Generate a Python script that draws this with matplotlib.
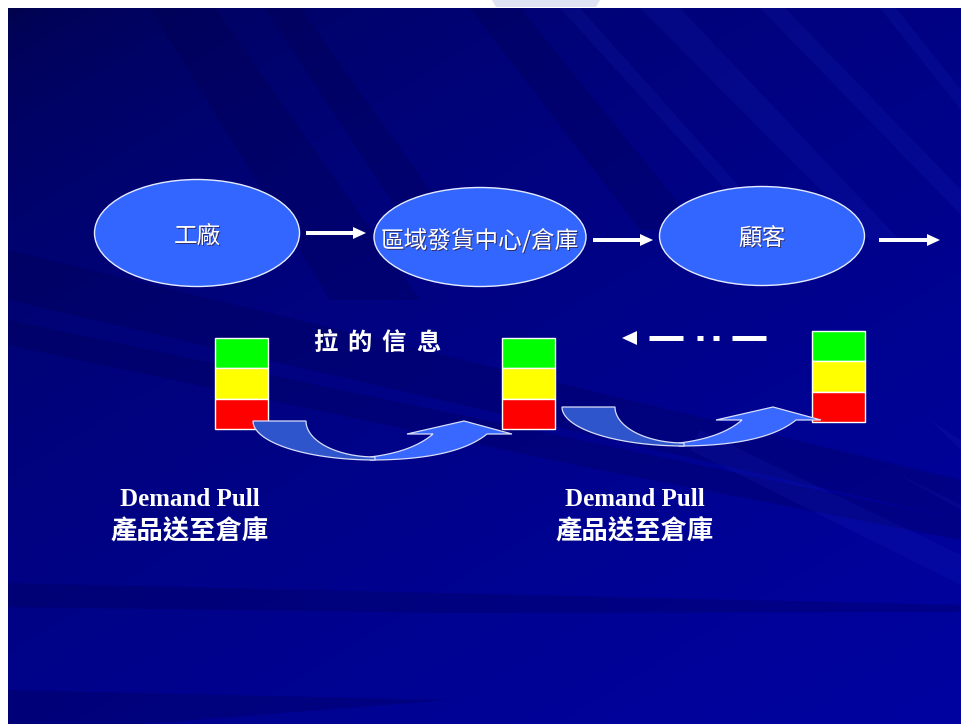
import numpy as np
import matplotlib.pyplot as plt
from matplotlib.patches import Ellipse, Rectangle, Polygon
from matplotlib.path import Path
from matplotlib.patches import PathPatch

plt.rcParams['font.family'] = ['Noto Sans CJK TC', 'DejaVu Sans']

# ---- content ----
nodes = ["工廠", "區域發貨中心/倉庫", "顧客"]
pull_label = "拉的信息"
caption_en = "Demand Pull"
caption_zh = "產品送至倉庫"
stack_colors = ["#00ff00", "#ffff00", "#ff0000"]

# ---- layout (pixels, y downward) ----
W, H = 961, 724
node_xy = [(197, 233), (480, 237), (762, 236)]
node_wh = [(205, 107), (212, 99), (205, 99)]
flow_arrows = [(306, 366, 233), (593, 653, 240), (879, 940, 240)]
stack_xy = [(215, 338), (502, 338), (812, 331)]
stack_w, stack_h = 53, 30.3
bend_offsets = [(0, 0), (309, -14)]
caption_x = [190, 635]

fig = plt.figure(figsize=(W / 100, H / 100), dpi=100, facecolor="white")
ax = fig.add_axes([0, 0, 1, 1])
ax.set_xlim(0, W)
ax.set_ylim(H, 0)
ax.axis("off")

# ---- slide background: navy gradient with diagonal streaks ----
gx, gy = np.meshgrid(np.linspace(0, 1, 300), np.linspace(0, 1, 300))
t = np.clip(0.55 * gy + 0.45 * gx, 0, 1)
blue = 0.29 + 0.34 * np.sqrt(t)
img = np.dstack([np.zeros_like(blue), np.zeros_like(blue) + 0.01, blue])
ax.imshow(img, extent=[8, W, H, 8], aspect="auto", zorder=0, interpolation="bilinear")

dark_streaks = [
    [(150, 8), (215, 8), (420, 300), (330, 300)],
    [(265, 8), (300, 8), (480, 260), (430, 260)],
    [(470, 8), (520, 8), (700, 230), (640, 230)],
    [(8, 250), (8, 300), (700, 460), (961, 520), (961, 480)],
    [(8, 583), (8, 607), (450, 613), (961, 612), (961, 605)],
    [(8, 690), (8, 724), (140, 724), (450, 700)],
    [(8, 320), (8, 345), (600, 470), (961, 540), (961, 520)],
]
for pts in dark_streaks:
    ax.add_patch(Polygon(pts, closed=True, facecolor="#000040", edgecolor="none",
                         alpha=0.22, zorder=0.5))

light_streaks = [
    [(560, 8), (580, 8), (760, 210), (744, 210)],
    [(640, 8), (680, 8), (900, 240), (870, 240)],
    [(760, 8), (785, 8), (961, 190), (961, 215)],
    [(880, 8), (896, 8), (961, 90), (961, 110)],
    [(700, 430), (961, 555), (961, 585), (690, 450)],
    [(930, 420), (961, 440), (961, 450)],
    [(890, 470), (961, 505), (961, 510)],
]
for pts in light_streaks:
    ax.add_patch(Polygon(pts, closed=True, facecolor="#3040e0", edgecolor="none",
                         alpha=0.10, zorder=0.5))

# faint logo in the top margin
ax.add_patch(Polygon([(492, 0), (600, 0), (596, 7), (496, 7)], closed=True,
                     facecolor="#dfe2f2", edgecolor="none", zorder=0.6))

# ---- top row: ellipses and flow arrows ----
for label, (cx, cy), (w, h) in zip(nodes, node_xy, node_wh):
    ax.add_patch(Ellipse((cx, cy), w, h, facecolor="#3366ff", edgecolor="#e6ecff",
                         lw=1.0, zorder=2))
    ax.text(cx + 1, cy + 4, label, color="#303070", fontsize=17, fontweight="light",
            ha="center", va="center", zorder=3)
    ax.text(cx, cy + 3, label, color="white", fontsize=17, fontweight="light",
            ha="center", va="center", zorder=4)

for x0, x1, y in flow_arrows:
    ax.add_patch(Polygon([(x0, y - 2), (x1 - 13, y - 2), (x1 - 13, y - 6), (x1, y),
                          (x1 - 13, y + 6), (x1 - 13, y + 2), (x0, y + 2)],
                         closed=True, facecolor="white", edgecolor="none", zorder=3))

# ---- stock level columns ----
for x, y in stack_xy:
    for k, c in enumerate(stack_colors):
        ax.add_patch(Rectangle((x, y + k * stack_h), stack_w, stack_h, facecolor=c,
                               edgecolor="white", lw=1.0, zorder=3))

# ---- pull information label and dotted back arrow ----
for k, ch in enumerate(pull_label):
    ax.text(325 + k * 34.5, 343, ch, color="white", fontsize=17.5, fontweight="bold",
            ha="center", va="center", zorder=4)

for a, b in [(649, 683), (697, 703), (713, 719), (732, 766)]:
    ax.plot([a, b], [338, 338], color="white", lw=3.6, solid_capstyle="butt", zorder=4)
ax.add_patch(Polygon([(622, 338), (637, 331), (637, 345)], closed=True,
                     facecolor="white", edgecolor="none", zorder=4))


# ---- curved "push to warehouse" arrows ----
def bezier(p0, p1, p2, n=40):
    s = np.linspace(0, 1, n)[:, None]
    return (1 - s) ** 2 * np.array(p0) + 2 * (1 - s) * s * np.array(p1) + s ** 2 * np.array(p2)


def curved_arrow(dx, dy):
    cx, cy = 375 + dx, 421 + dy
    th = np.linspace(0, np.pi / 2, 50)
    outer = np.column_stack([cx - 122 * np.cos(th), cy + 39 * np.sin(th)])
    inner = np.column_stack([cx - 69 * np.cos(th), cy + 36 * np.sin(th)])[::-1]
    back = np.vstack([outer, inner])

    low = bezier((370 + dx, 460 + dy), (455 + dx, 460 + dy), (487 + dx, 434 + dy))
    head = np.array([(512, 434), (464, 421), (407, 434)]) + [dx, dy]
    up = bezier((433 + dx, 434 + dy), (412 + dx, 452 + dy), (370 + dx, 457 + dy))
    front = np.vstack([low, head, up])

    for pts, fc in [(front, "#3868ff"), (back, "#2f55cc")]:
        codes = [Path.MOVETO] + [Path.LINETO] * (len(pts) - 1) + [Path.CLOSEPOLY]
        verts = np.vstack([pts, pts[:1]])
        ax.add_patch(PathPatch(Path(verts, codes), facecolor=fc, edgecolor="#d8defa",
                               lw=0.9, zorder=3.5))


for dx, dy in bend_offsets:
    curved_arrow(dx, dy)

# ---- captions ----
for x in caption_x:
    ax.text(x, 500, caption_en, color="white", fontsize=18, fontweight="bold",
            family="Liberation Serif", ha="center", va="center", zorder=4)
    ax.text(x, 532, caption_zh, color="white", fontsize=19, fontweight="bold",
            ha="center", va="center", zorder=4)

fig.savefig("out.png", dpi=100, facecolor="white")
